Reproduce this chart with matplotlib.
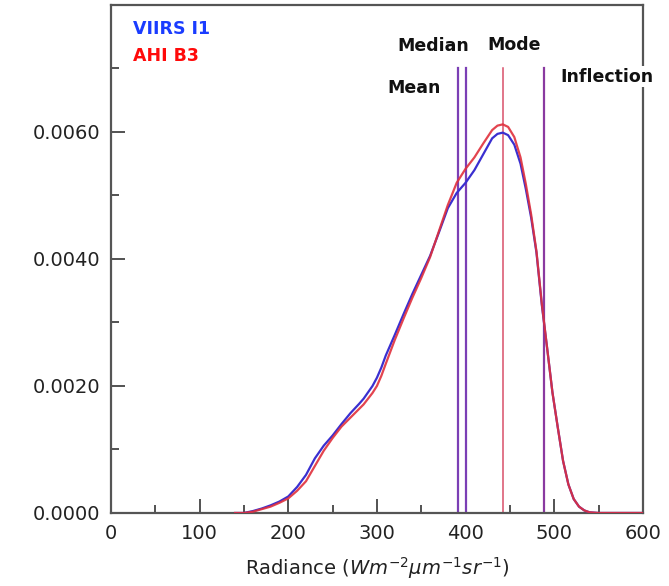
import matplotlib
matplotlib.use("Agg")
import matplotlib.pyplot as plt
import numpy as np

# density curves
radiance = [140, 150, 160, 170, 180, 190, 200, 210, 220, 230, 240, 250, 260, 270,
            280, 285, 290, 295, 300, 305, 310, 320, 330, 340, 350, 360, 370, 380,
            390, 400, 410, 420, 430, 436, 442, 448, 455, 462, 468, 474, 480, 486,
            492, 498, 504, 510, 516, 522, 528, 534, 540, 550, 560, 600]
viirs = [0.0, 0.0, 0.00003, 0.00007, 0.00012, 0.00018, 0.00026, 0.00041, 0.0006,
         0.00086, 0.00106, 0.00122, 0.0014, 0.00157, 0.00172, 0.0018, 0.0019,
         0.002, 0.00213, 0.00229, 0.00248, 0.0028, 0.00313, 0.00345, 0.00375,
         0.00405, 0.00442, 0.0048, 0.00504, 0.0052, 0.0054, 0.00565, 0.0059,
         0.00597, 0.00599, 0.00595, 0.0058, 0.0055, 0.0051, 0.00465, 0.0041,
         0.00328, 0.0026, 0.0019, 0.00135, 0.00082, 0.00045, 0.00022, 0.0001,
         0.00004, 0.00001, 0.0, 0.0, 0.0]
ahi = [0.0, 0.0, 0.00002, 0.00006, 0.0001, 0.00016, 0.00023, 0.00035, 0.0005,
       0.00074, 0.00098, 0.00118, 0.00136, 0.0015, 0.00164, 0.00171, 0.0018,
       0.00189, 0.002, 0.00216, 0.00235, 0.00272, 0.00306, 0.00339, 0.0037,
       0.00403, 0.00444, 0.00485, 0.0052, 0.00542, 0.0056, 0.00582, 0.00603,
       0.0061, 0.00612, 0.00608, 0.00592, 0.0056, 0.00518, 0.0047, 0.00412,
       0.0033, 0.0026, 0.0019, 0.00135, 0.00082, 0.00045, 0.00022, 0.0001,
       0.00004, 0.00001, 0.0, 0.0, 0.0]

stat_names = ["Mean", "Median", "Mode", "Inflection"]
stat_values = [391.3, 400.8, 442.6, 488.5]
stat_colors = ["#7b3fb5", "#7b3fb5", "#d9506a", "#8a3aa0"]
label_xy = [(342, 0.00669), (364, 0.00736), (455, 0.00737), (560, 0.00687)]

fig = plt.figure(figsize=(6.69, 5.86), dpi=100)
ax = fig.add_axes([0.1659, 0.1246, 0.795, 0.8669])

ax.plot(radiance, viirs, color="#3a2fd0", lw=1.6, zorder=3)
ax.plot(radiance, ahi, color="#e0303c", lw=1.6, alpha=0.9, zorder=4)

for v, c in zip(stat_values, stat_colors):
    ax.plot([v, v], [0, 0.007], color=c, lw=1.6 if c != "#d9506a" else 1.1, zorder=2)

for name, (tx, ty) in zip(stat_names, label_xy):
    ax.text(tx, ty, name, ha="center", va="center", fontsize=12.5, fontweight="bold",
            color="#111111", bbox=dict(facecolor="white", edgecolor="none", pad=1),
            clip_on=False, zorder=6)

ax.text(25, 0.00762, "VIIRS I1", color="#1a3cff", fontsize=12.5, fontweight="bold",
        ha="left", va="center")
ax.text(25, 0.0072, "AHI B3", color="#ff0a0a", fontsize=12.5, fontweight="bold",
        ha="left", va="center")

ax.set_xlim(0, 600)
ax.set_ylim(0, 0.008)
ax.set_xticks([0, 100, 200, 300, 400, 500, 600])
ax.set_xticks([50, 150, 250, 350, 450, 550], minor=True)
ax.set_yticks([0, 0.002, 0.004, 0.006])
ax.set_yticklabels(["0.0000", "0.0020", "0.0040", "0.0060"])
ax.set_yticks([0.001, 0.003, 0.005, 0.007], minor=True)

ax.tick_params(which="major", direction="in", length=10, width=1.3, colors="#444444",
               labelsize=14, pad=8, labelcolor="#222222")
ax.tick_params(which="minor", direction="in", length=6, width=1.3, colors="#444444")
for s in ax.spines.values():
    s.set_color("#555555")
    s.set_linewidth(1.6)

ax.set_xlabel(r"Radiance ($Wm^{-2}\mu m^{-1}sr^{-1}$)", fontsize=14, color="#222222",
              labelpad=9)

fig.savefig("out.png", dpi=100)
